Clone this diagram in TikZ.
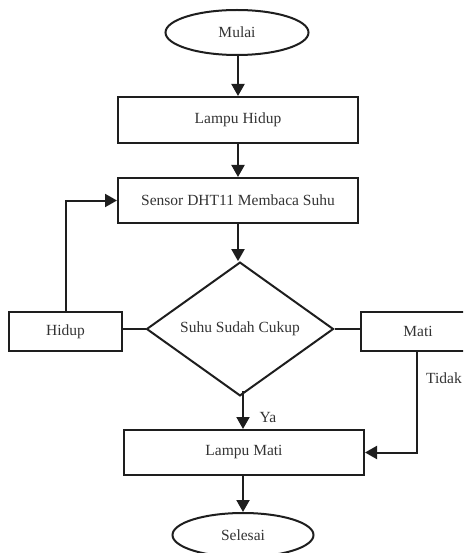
\documentclass[tikz,border=0pt]{standalone}
\usepackage{fontspec}
\setmainfont{Liberation Serif}
\usetikzlibrary{shapes.geometric,arrows.meta}
\definecolor{ln}{HTML}{1E1E1E}
\definecolor{tx}{HTML}{333333}
\begin{document}
\begin{tikzpicture}[x=1pt,y=-1pt,
  every node/.style={text=tx,font=\fontsize{15.5}{18}\selectfont},
  box/.style={draw=ln,line width=2pt,rectangle,inner sep=0pt},
  term/.style={draw=ln,line width=2pt,ellipse,inner sep=0pt},
  conn/.style={draw=ln,line width=2pt},
  arr/.style={conn,-{Triangle[width=13pt,length=12pt]}},
  lbl/.style={inner sep=0pt}]
\clip (0,0) rectangle (463,553);
\useasboundingbox (0,0) rectangle (463,553);
\node[term,minimum width=143pt,minimum height=45pt] (mulai) at (237,32.5) {Mulai};
\node[box,minimum width=240pt,minimum height=46pt] (lh) at (238,120) {Lampu Hidup};
\node[box,minimum width=240pt,minimum height=45pt] (sensor) at (238,200.5) {Sensor DHT11 Membaca Suhu};
\node[draw=ln,line width=2pt,diamond,inner sep=0pt,minimum width=187pt,minimum height=126pt] (dia) at (240,329) {Suhu Sudah Cukup};
\node[box,minimum width=113pt,minimum height=39pt] (hidup) at (65.5,331.5) {Hidup};
\node[box,minimum width=114pt,minimum height=39pt] (mati) at (418,331.5) {Mati};
\node[box,minimum width=240pt,minimum height=45pt] (lm) at (244,452.5) {Lampu Mati};
\node[term,minimum width=141pt,minimum height=44pt] (selesai) at (243,535) {Selesai};
\coordinate (hup) at (66,200.5);
\coordinate (mdn) at (417,452.5);
\coordinate (ytop) at (243,391);
\draw[arr] (mulai.south -| lh.north) -- (lh.north);
\draw[arr] (lh) -- (sensor);
\draw[arr] (sensor.south) -- (sensor.south |- dia.north);
\draw[conn] (hidup.east |- dia.west) -- (dia.west);
\draw[conn] (dia.east) -- (mati.west |- dia.east);
\draw[arr] (hidup.north -| hup) -- (hup) -- (sensor.west);
\draw[arr] (ytop) -- (ytop |- lm.north);
\draw[arr] (mati.south -| mdn) -- (mdn) -- (lm.east);
\draw[arr] (lm.south -| selesai.north) -- (selesai.north);
\node[lbl] (ya) at (268,417) {Ya};
\node[lbl,anchor=west] (tidak) at (426,378) {Tidak};
\end{tikzpicture}
\end{document}
